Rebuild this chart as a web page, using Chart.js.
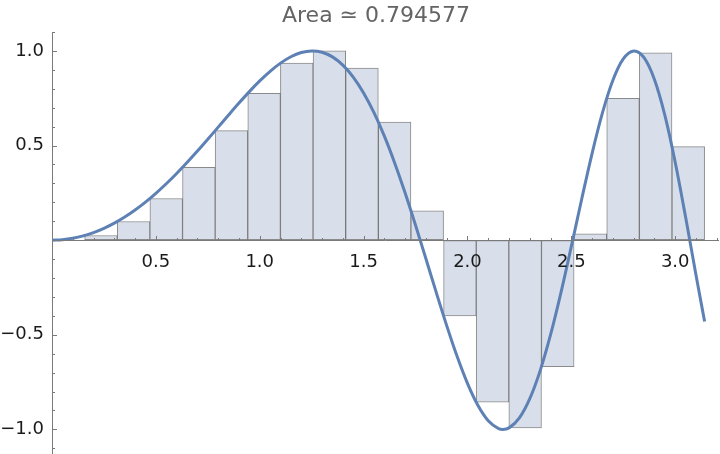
<!DOCTYPE html>
<html lang="en">
<head>
  <meta charset="UTF-8" />
  <title>Riemann sum of sin(x²)</title>
  <script src="https://cdn.jsdelivr.net/npm/chart.js"></script>
  <style>
    * { box-sizing: border-box; }
    html, body { margin: 0; padding: 0; background: #fff; }
    .wrap { position: relative; width: 720px; height: 454px; }
    .title {
      position: absolute;
      top: 2px;
      left: 376px;
      transform: translateX(-50%);
      white-space: nowrap;
      font-family: 'DejaVu Sans', sans-serif;
      font-size: 22px;
      line-height: 26px;
      color: #646464;
    }
  </style>
</head>
<body>
  <div class="wrap">
    <canvas id="chart" width="720" height="454"></canvas>
    <div class="title" id="title"></div>
  </div>

  <script>
    // curve y = sin(x^2)
    const curveX = [0, 0.05, 0.1, 0.15, 0.2, 0.25, 0.3, 0.35, 0.4, 0.45, 0.5, 0.55, 0.6, 0.65, 0.7, 0.75,
      0.8, 0.85, 0.9, 0.95, 1.0, 1.05, 1.1, 1.15, 1.2, 1.25, 1.2533, 1.3, 1.35, 1.4, 1.45, 1.5, 1.55,
      1.6, 1.65, 1.7, 1.75, 1.8, 1.85, 1.9, 1.95, 2.0, 2.05, 2.1, 2.15, 2.1708, 2.2, 2.25, 2.3, 2.35,
      2.4, 2.45, 2.5, 2.55, 2.6, 2.65, 2.7, 2.75, 2.8, 2.8025, 2.85, 2.9, 2.95, 3.0, 3.05, 3.1, 3.1416];
    const curveY = [0, 0.0025, 0.01, 0.0225, 0.04, 0.0625, 0.0899, 0.1222, 0.1593, 0.2011, 0.2474, 0.2979,
      0.3523, 0.41, 0.4706, 0.5333, 0.5972, 0.6613, 0.7243, 0.7849, 0.8415, 0.8923, 0.9356, 0.9693, 0.9915,
      1.0, 1.0, 0.9929, 0.9685, 0.9252, 0.862, 0.7781, 0.6736, 0.5494, 0.4069, 0.2489, 0.079, -0.0983,
      -0.2772, -0.4515, -0.6138, -0.7568, -0.8728, -0.9546, -0.996, -1.0, -0.9919, -0.9393, -0.8378,
      -0.6894, -0.4996, -0.277, -0.0332, 0.2176, 0.459, 0.6738, 0.8452, 0.9578, 0.9999, 1.0, 0.9642,
      0.8493, 0.6611, 0.4121, 0.122, -0.1842, -0.4303];

    // rectangles (left-point sum, 20 strips)
    const barCenters = [0.0785, 0.2356, 0.3927, 0.5498, 0.7069, 0.8639, 1.021, 1.1781, 1.3352, 1.4923,
      1.6493, 1.8064, 1.9635, 2.1206, 2.2777, 2.4347, 2.5918, 2.7489, 2.906, 3.0631];
    const barHeights = [0, 0.0247, 0.0985, 0.2203, 0.3846, 0.5785, 0.776, 0.9353, 1.0, 0.9099,
      0.6243, 0.1554, -0.4, -0.8564, -0.9924, -0.668, 0.0334, 0.7497, 0.9902, 0.4947];

    const xTickLabels = [0.5, 1.0, 1.5, 2.0, 2.5, 3.0];
    const yTickLabels = [-1.0, -0.5, 0.5, 1.0];
    const minorStep = 0.1;
    const titleText = 'Area \u2243 0.794577';

    const xMin = 0, xMax = 3.206;
    const yMin = -1.13, yMax = 1.1;
    const axisColor = '#7a7a7a';

    document.getElementById('title').textContent = titleText;

    function isLabel(list, v) {
      return list.some(t => Math.abs(t - v) < 1e-6);
    }
    function fmt(v) {
      return v.toFixed(1).replace('-', '\u2212');
    }

    // Mathematica style ticks pointing into the plot, minor every 0.1
    const innerTicks = {
      id: 'innerTicks',
      afterDatasetsDraw(chart) {
        const { ctx, chartArea, scales } = chart;
        const x = scales.x, y = scales.y;
        const y0 = Math.round(y.getPixelForValue(0)) + 0.5;
        const x0 = Math.round(chartArea.left) + 0.5;
        ctx.save();
        ctx.strokeStyle = axisColor;
        ctx.lineWidth = 1;
        ctx.beginPath();
        for (let k = 1; k * minorStep <= x.max; k++) {
          const v = k * minorStep;
          const px = Math.round(x.getPixelForValue(v)) + 0.5;
          const len = isLabel(xTickLabels, v) ? 4.5 : 2.5;
          ctx.moveTo(px, y0);
          ctx.lineTo(px, y0 - len);
        }
        for (let k = Math.ceil(y.min / minorStep); k * minorStep <= y.max; k++) {
          if (k === 0) continue;
          const v = k * minorStep;
          const py = Math.round(y.getPixelForValue(v)) + 0.5;
          const len = isLabel(yTickLabels, v) ? 4.5 : 2.5;
          ctx.moveTo(x0, py);
          ctx.lineTo(x0 + len, py);
        }
        ctx.stroke();
        ctx.restore();
      }
    };

    new Chart(document.getElementById('chart'), {
      type: 'bar',
      data: {
        datasets: [
          {
            type: 'line',
            label: 'sin(x\u00b2)',
            data: curveX.map((x, i) => ({ x: x, y: curveY[i] })),
            borderColor: 'rgb(94, 129, 181)',
            borderWidth: 3,
            pointRadius: 0,
            cubicInterpolationMode: 'monotone',
            order: 0
          },
          {
            type: 'bar',
            label: 'strips',
            data: barCenters.map((x, i) => ({ x: x, y: barHeights[i] })),
            backgroundColor: 'rgb(216, 223, 234)',
            borderColor: 'rgba(60, 60, 60, 0.6)',
            borderWidth: 1,
            borderSkipped: false,
            barPercentage: 1,
            categoryPercentage: 1,
            order: 1
          }
        ]
      },
      options: {
        responsive: false,
        animation: false,
        layout: { padding: { left: 0, right: 2, top: 32, bottom: 0 } },
        plugins: {
          legend: { display: false },
          tooltip: { enabled: false },
          title: { display: false }
        },
        scales: {
          x: {
            type: 'linear',
            position: { y: 0 },
            min: xMin,
            max: xMax,
            offset: false,
            grid: { display: true, drawOnChartArea: false, drawTicks: false },
            border: { display: true, color: axisColor, width: 1, z: 1 },
            afterFit: scale => { scale.paddingLeft = 0; scale.paddingRight = 0; },
            ticks: {
              z: 1,
              stepSize: 0.5,
              includeBounds: false,
              autoSkip: false,
              maxRotation: 0,
              padding: 11,
              color: '#1a1a1a',
              font: { family: 'DejaVu Sans', size: 18 },
              callback: v => isLabel(xTickLabels, v) ? fmt(v) : ''
            }
          },
          y: {
            type: 'linear',
            position: 'left',
            min: yMin,
            max: yMax,
            grid: { display: true, drawOnChartArea: false, drawTicks: false },
            border: { display: true, color: axisColor, width: 1 },
            afterFit: scale => { scale.width = 52; scale.paddingTop = 0; scale.paddingBottom = 0; },
            ticks: {
              stepSize: 0.5,
              includeBounds: false,
              autoSkip: false,
              padding: 8,
              color: '#1a1a1a',
              font: { family: 'DejaVu Sans', size: 18 },
              callback: v => isLabel(yTickLabels, v) ? fmt(v) : ''
            }
          }
        }
      },
      plugins: [innerTicks]
    });
  </script>
</body>
</html>
